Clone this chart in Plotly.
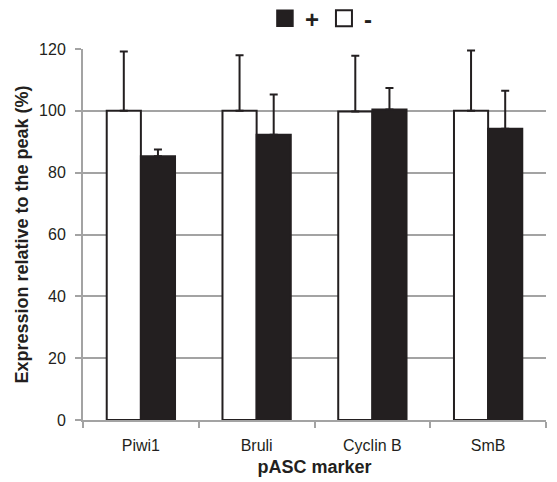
import plotly.graph_objects as go

categories = ["Piwi1", "Bruli", "Cyclin B", "SmB"]
minus_vals = [100, 100, 99.8, 100]
minus_err = [19.2, 18, 18, 19.5]
plus_vals = [85.3, 92.3, 100.4, 94.2]
plus_err = [2.2, 13, 7, 12.3]
y_ticks = [0, 20, 40, 60, 80, 100, 120]

FONT = "Liberation Sans, Arial, sans-serif"
DARK = "#231f20"
GRID = "#a3a3a3"

fig = go.Figure()
fig.add_trace(go.Bar(
    x=categories, y=minus_vals, name="-", showlegend=False,
    marker=dict(color="white", line=dict(color=DARK, width=2)),
    error_y=dict(type="data", symmetric=False, array=minus_err,
                 arrayminus=[0] * len(minus_err), color=DARK, thickness=2, width=4),
))
fig.add_trace(go.Bar(
    x=categories, y=plus_vals, name="+", showlegend=False,
    marker=dict(color=DARK, line=dict(color=DARK, width=2)),
    error_y=dict(type="data", symmetric=False, array=plus_err,
                 arrayminus=[0] * len(plus_err), color=DARK, thickness=2, width=4),
))
# legend proxies
fig.add_trace(go.Scatter(x=[None], y=[None], mode="markers", name="+",
                         marker=dict(symbol="square", size=19, color=DARK,
                                     line=dict(color=DARK, width=1.5))))
fig.add_trace(go.Scatter(x=[None], y=[None], mode="markers", name="-",
                         marker=dict(symbol="square", size=17, color="white",
                                     line=dict(color=DARK, width=2))))

fig.update_layout(
    width=557, height=482,
    margin=dict(l=83, r=11, t=49, b=62, autoexpand=False),
    paper_bgcolor="white", plot_bgcolor="white",
    font=dict(family=FONT, size=16, color=DARK),
    barmode="group", bargap=0.41, bargroupgap=0,
    legend=dict(orientation="h", x=0.515, xanchor="center", y=1.082, yanchor="middle",
                font=dict(size=24, family=FONT, weight="bold"),
                itemwidth=30, tracegroupgap=0),
    xaxis=dict(
        showline=True, linecolor=GRID, linewidth=2,
        ticks="outside", tickson="boundaries", ticklen=6, tickcolor=GRID, tickwidth=1.5,
        tickfont=dict(size=16, family=FONT), ticklabelstandoff=10,
        title=dict(text="<b>pASC marker</b>", font=dict(size=18, family=FONT), standoff=7),
    ),
    yaxis=dict(
        range=[0, 120], tickvals=y_ticks,
        showline=True, linecolor=GRID, linewidth=2,
        showgrid=True, gridcolor=GRID, gridwidth=1.5,
        ticks="outside", ticklen=6, tickcolor=GRID, tickwidth=1.5,
        tickfont=dict(size=16, family=FONT), ticklabelstandoff=6,
        zeroline=False,
        title=dict(text="<b>Expression relative to the peak (%)</b>",
                   font=dict(size=18, family=FONT), standoff=6),
    ),
)

fig.write_html("out.html")
